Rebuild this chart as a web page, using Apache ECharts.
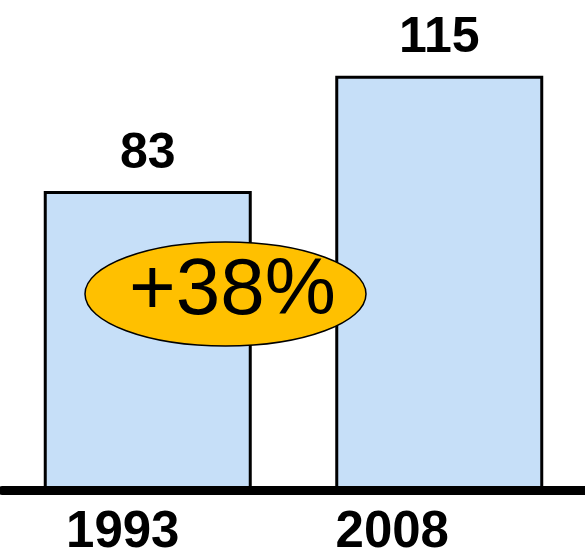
<!DOCTYPE html>
<html>
<head>
<meta charset="utf-8">
<script src="https://cdn.jsdelivr.net/npm/echarts@6/dist/echarts.min.js"></script>
<style>
  html, body { margin: 0; padding: 0; background: #fff; }
  #chart { width: 585px; height: 559px; }
</style>
</head>
<body>
<div id="chart"></div>
<script>
var years = ['1993', '2008'];
var values = [83, 115];
var changeLabel = '+38%';

var yearFont = {
  color: '#000',
  fontSize: 51,
  fontWeight: 'bold',
  fontFamily: 'Liberation Sans'
};

var chart = echarts.init(document.getElementById('chart'));

chart.setOption({
  animation: false,
  grid: {
    left: 2,
    right: 0,
    top: 0,
    bottom: 69
  },
  xAxis: {
    type: 'category',
    data: years,
    offset: 4.5,
    z: 5,
    axisLine: {
      lineStyle: { color: '#000', width: 9 }
    },
    axisTick: { show: false },
    axisLabel: {
      margin: 13,
      color: '#000',
      fontSize: 51,
      fontWeight: 'bold',
      fontFamily: 'Liberation Sans',
      // the year labels sit left of the bar centres in the original
      formatter: function (v, i) {
        return '{y' + i + '|' + v + '}';
      },
      rich: {
        y0: Object.assign({ padding: [0, 50, 0, 0] }, yearFont),
        y1: Object.assign({ padding: [0, 94, 0, 0] }, yearFont)
      }
    }
  },
  yAxis: {
    type: 'value',
    min: 0,
    max: 136,
    show: false
  },
  series: [{
    type: 'bar',
    data: values,
    barWidth: 208,
    itemStyle: {
      color: '#c6dff8',
      borderColor: '#000',
      borderWidth: 3
    },
    label: {
      show: true,
      position: 'top',
      distance: 12,
      color: '#000',
      fontSize: 50,
      fontWeight: 'bold',
      fontFamily: 'Liberation Sans'
    }
  }],
  graphic: [{
    type: 'ellipse',
    z: 10,
    shape: { cx: 225.5, cy: 294, rx: 140.5, ry: 52 },
    style: { fill: '#ffc000', stroke: '#000', lineWidth: 1.5 }
  }, {
    type: 'text',
    z: 11,
    x: 232.5,
    y: 292,
    style: {
      text: changeLabel,
      fill: '#000',
      font: '80px "Liberation Sans"',
      align: 'center',
      verticalAlign: 'middle'
    }
  }]
});
</script>
</body>
</html>
